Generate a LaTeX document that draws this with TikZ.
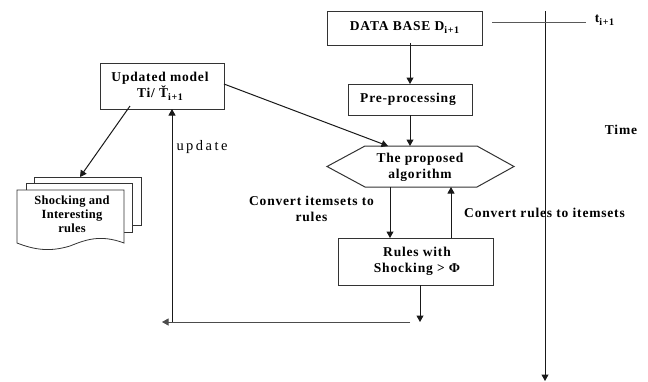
\documentclass[tikz,border=0pt]{standalone}
\usepackage{fontspec}
\setmainfont{Liberation Serif}
\usetikzlibrary{arrows.meta}
\newfontfamily\updfont[LetterSpace=17]{Liberation Serif}
\newfontfamily\lblfont[LetterSpace=6]{Liberation Serif}
\newfontfamily\docfont[LetterSpace=2]{Liberation Serif}
\newcommand{\subtxt}[1]{\raisebox{-3pt}{\fontsize{10}{10}\selectfont\bfseries #1}}
\tikzset{
  lbl/.style={font=\lblfont\fontsize{13.5}{16}\selectfont\bfseries, align=center, inner sep=0pt, text=black},
  doclbl/.style={font=\docfont\fontsize{12.5}{14}\selectfont\bfseries, align=center, inner sep=0pt, text=black},
  boxn/.style={draw=black!80, line width=1pt, fill=white, minimum width=0pt, inner sep=0pt},
  conn/.style={draw=black!90, line width=1pt, -{Triangle[length=6.5pt,width=7pt]}},
  plain/.style={draw=black!65, line width=0.9pt},
  docsheet/.style={draw=black!80, line width=0.8pt, fill=white},
}
\begin{document}
\begin{tikzpicture}[x=1pt,y=-1pt]
\useasboundingbox (0,0) rectangle (648,381);
\fill[white] (0,0) rectangle (648,381);
% boxes
\node[boxn, minimum width=155pt, minimum height=34pt] (db) at (405,28) {};
\node[lbl] (dbt) at (404.5,28) {DATA BASE D\subtxt{i+1}};
\node[boxn, minimum width=124pt, minimum height=31pt] (pre) at (410,99.5) {};
\node[lbl] (pret) at (408,99.5) {Pre-processing};
\node[boxn, minimum width=124pt, minimum height=46pt] (upd) at (162,86) {};
\node[lbl] (updt) at (160,86) {Updated model\\Ti/ Ť\subtxt{i+1}};
\node[boxn, minimum width=155pt, minimum height=47pt] (rul) at (415.5,261.5) {};
\node[lbl] (rult) at (417,261.5) {Rules with\\Shocking {>} Φ};
% hexagon
\coordinate (hexa) at (327,166.5);
\coordinate (hexb) at (365,146);
\coordinate (hexc) at (477,146);
\coordinate (hexd) at (514,166.5);
\coordinate (hexe) at (477,187);
\coordinate (hexf) at (365,187);
\draw[boxn] (hexa) -- (hexb) -- (hexc) -- (hexd) -- (hexe) -- (hexf) -- cycle;
\node[lbl] (hext) at (420,167) {The proposed\\algorithm};
% document stack
\draw[docsheet] (34,177) -- (141,177) -- (141,225) -- (34,225) -- cycle;
\draw[docsheet] (26,183) -- (132,183) -- (132,232) -- (26,232) -- cycle;
\draw[docsheet] (17,190) -- (124,190) -- (124,243) .. controls (100,234) and (85,240) .. (70,246) .. controls (50,252) and (35,250) .. (17,243) -- cycle;
\node[doclbl] (doct) at (72,214) {Shocking and\\Interesting\\rules};
% free ends
\coordinate (updr) at (224,84);
\coordinate (hextop) at (388,146);
\coordinate (updb) at (130,106);
\coordinate (docTop) at (80,177);
\coordinate (dbb) at (410,43);
\coordinate (pret1) at (410,84);
\coordinate (preb) at (410,115);
\coordinate (hext2) at (410,146);
\coordinate (hexb1) at (390,187);
\coordinate (rult1) at (390,238);
\coordinate (rult2) at (451,238);
\coordinate (hexb2) at (451,187);
\coordinate (rulb) at (420,285);
\coordinate (rule) at (420,322);
\coordinate (hs) at (410,322);
\coordinate (he) at (162,322);
\coordinate (vs) at (172,322);
\coordinate (ve) at (172,109);
\coordinate (ts) at (545,11);
\coordinate (te) at (545,381);
\coordinate (tl) at (492,22);
\coordinate (tr) at (586,22);
% connectors
\draw[conn] (updr) -- (hextop);
\draw[conn] (updb) -- (docTop);
\draw[conn] (dbb) -- (pret1);
\draw[conn] (preb) -- (hext2);
\draw[conn] (hexb1) -- (rult1);
\draw[conn] (rult2) -- (hexb2);
\draw[conn] (rulb) -- (rule);
\draw[conn, draw=black!70] (hs) -- (he);
\draw[conn] (vs) -- (ve);
\draw[conn] (ts) -- (te);
\draw[plain] (tl) -- (tr);
% labels
\node[lbl] (tl1) at (604.5,20) {t\subtxt{i+1}};
\node[lbl] (tm) at (621,130) {Time};
\node[inner sep=0pt, font=\updfont\fontsize{14.5}{15}\selectfont] (up) at (202,147) {update};
\node[lbl] (c1) at (311.5,209) {Convert itemsets to\\rules};
\node[lbl] (c2) at (544.5,213) {Convert rules to itemsets};
\end{tikzpicture}
\end{document}
